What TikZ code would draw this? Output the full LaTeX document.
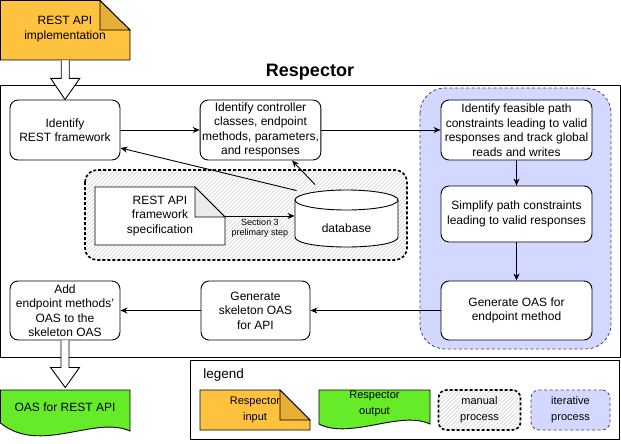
\documentclass[tikz,border=0pt]{standalone}
\usepackage{fontspec}
\setmainfont{Liberation Sans}
\usetikzlibrary{arrows.meta}
\definecolor{inorange}{RGB}{255,194,63}
\definecolor{folddark}{RGB}{232,174,56}
\definecolor{outgreen}{RGB}{102,235,40}
\definecolor{iterblue}{RGB}{210,216,255}
\definecolor{iterline}{RGB}{70,70,90}
\definecolor{foldgray}{RGB}{235,235,235}
\definecolor{hatchgray}{RGB}{205,205,205}
% hatch: #1,#2 = top-left corner, #3,#4 = bottom-right corner, #5 = corner radius
\newcommand\myhatch[5]{%
  \begin{scope}
    \clip[rounded corners=#5] (#1,#2) rectangle (#3,#4);
    \fill[white] (#1,#2) rectangle (#3,#4);
    \pgfmathsetmacro\hh{#4-#2}
    \foreach \a in {-100,-96,...,420} {
      \draw[hatchgray, line width=0.6pt] ({#1+\a},#4) -- ({#1+\a+\hh},#2);
    }
  \end{scope}}
\begin{document}
\begin{tikzpicture}[x=1pt,y=-1pt,
  line width=0.9pt,
  txt/.style={font=\fontsize{12}{14.5}\selectfont, align=center, inner sep=0pt},
  proc/.style={draw, rounded corners=8pt, fill=white, align=center, inner sep=2pt,
               font=\fontsize{12}{14.5}\selectfont},
  holder/.style={inner sep=0pt, align=center},
  arr/.style={-{Stealth[length=7pt,width=6pt]}},
  blockarr/.style={draw, fill=white, line width=0.9pt, line join=miter},
  manualline/.style={draw, line width=1.6pt, dash pattern=on 3pt off 2pt},
  iterreg/.style={draw=iterline, line width=0.8pt, dash pattern=on 3pt off 2.5pt, fill=iterblue},
  legtxt/.style={font=\fontsize{11}{16}\selectfont, align=center, inner sep=0pt}
]
\useasboundingbox (0,0) rectangle (621,444);

% ---------- main container ----------
\node[draw, minimum width=619.5pt, minimum height=272pt, inner sep=0pt] (main) at (310.25,221) {};
\node[font=\fontsize{18}{20}\bfseries\selectfont, inner sep=0pt] (title) at (310,72.5) {Respector};

% iterative region
\draw[iterreg, rounded corners=25pt] (420,88) rectangle (611,349);
% manual region
\myhatch{85}{170}{407}{260}{12pt}
\draw[manualline, rounded corners=12pt] (85,170) rectangle (407,260);

% ---------- input note ----------
\draw[fill=inorange] (0.5,0.5) -- (100,0.5) -- (130,30) -- (130,60) -- (0.5,60) -- cycle;
\draw[fill=folddark] (100,0.5) -- (100,30) -- (130,30) -- cycle;
\node[holder, minimum width=129.5pt, minimum height=59.5pt] (impl) at (65.25,30.25) {};
\node[txt] (impltxt) at (65,29) {REST API\\implementation};

% ---------- process boxes ----------
\node[proc, minimum width=110pt, minimum height=60pt] (rest) at (65,130) {Identify\\REST framework};
\node[proc, minimum width=119pt, minimum height=60pt] (ctrl) at (260.5,130)
  {Identify controller\\classes, endpoint\\methods, parameters,\\and responses};
\node[proc, minimum width=151pt, minimum height=60pt] (feas) at (516.5,130)
  {Identify feasible path\\constraints leading to valid\\responses and track global\\reads and writes};
\node[proc, minimum width=151pt, minimum height=56pt] (simp) at (516.5,214)
  {Simplify path constraints\\leading to valid responses};
\node[proc, minimum width=151pt, minimum height=59pt] (gen) at (516.5,310.5)
  {Generate OAS for\\endpoint method};
\node[proc, minimum width=109pt, minimum height=59pt] (skel) at (255.5,310.5)
  {Generate\\skeleton OAS\\for API};
\node[proc, minimum width=110pt, minimum height=59pt] (add) at (65,310.5)
  {Add\\endpoint methods'\\OAS to the\\skeleton OAS};

% ---------- spec note ----------
\draw[fill=white] (95,187) -- (195,187) -- (225,217) -- (225,245) -- (95,245) -- cycle;
\draw[fill=foldgray] (195,187) -- (195,217) -- (225,217) -- cycle;
\node[holder, minimum width=130pt, minimum height=58pt] (spec) at (160,216) {};
\node[txt] (spectxt) at (160,216) {REST API\\framework\\specification};

% ---------- database ----------
\draw[fill=white] (295,200) -- (295,237) .. controls (295,250.33) and (398,250.33) .. (398,237) -- (398,200);
\draw[fill=white] (346.5,200) ellipse [x radius=51.5pt, y radius=10pt];
\node[holder, minimum width=103pt, minimum height=57pt] (db) at (346.5,218.5) {};
\node[txt] (dbtxt) at (346.5,228) {database};

% ---------- connectors ----------
\draw[arr] (rest) -- (ctrl);
\draw[arr] (ctrl) -- (feas);
\draw[arr] (feas) -- (simp);
\draw[arr] (simp) -- (gen);
\draw[arr] (gen) -- (skel);
\draw[arr] (skel) -- (add);
\draw[arr] (spec.east) -- (spec.east -| db.west)
  node[midway, below=3pt, font=\fontsize{9}{10}\selectfont, align=center, inner sep=0pt]
  {Section 3\\prelimary step};
\draw[arr] ([xshift=2pt,yshift=-1pt]db.north west) -- ([yshift=-18pt]rest.east);
\draw[arr] ([xshift=-31.5pt,yshift=5pt]db.north) -- ([xshift=31.5pt]ctrl.south);

% ---------- output document ----------
\draw[fill=outgreen] (0.5,390) -- (130,390) -- (130,431) .. controls (95,415) and (40,455) .. (0.5,423) -- cycle;
\node[holder, minimum width=129.5pt, minimum height=34pt] (oas) at (65.25,407) {};
\node[txt] (oastxt) at (65,407) {OAS for REST API};

% ---------- hollow block arrows ----------
\draw[blockarr] ([xshift=-4pt]impl.south) -- ([xshift=-4pt,yshift=-18pt]impl.south)
  -- ([xshift=-14.5pt,yshift=-18pt]impl.south) -- (rest.north)
  -- ([xshift=14.5pt,yshift=-18pt]impl.south) -- ([xshift=4pt,yshift=-18pt]impl.south)
  -- ([xshift=4pt]impl.south);
\draw[blockarr] ([xshift=-4pt]add.south) -- ([xshift=-4pt,yshift=-27pt]add.south)
  -- ([xshift=-14.5pt,yshift=-27pt]add.south) -- ([yshift=2pt]oas.north)
  -- ([xshift=14.5pt,yshift=-27pt]add.south) -- ([xshift=4pt,yshift=-27pt]add.south)
  -- ([xshift=4pt]add.south);

% ---------- legend ----------
\node[draw, minimum width=429pt, minimum height=79pt, inner sep=0pt] (legend) at (404.5,399.5) {};
\node[font=\fontsize{13.5}{15}\selectfont, anchor=west, inner sep=0pt] (legtitle) at (203,375) {legend};

\draw[fill=inorange] (200,390) -- (280,390) -- (310,420) -- (310,430) -- (200,430) -- cycle;
\draw[fill=folddark] (280,390) -- (280,420) -- (310,420) -- cycle;
\node[legtxt] (linput) at (255,410) {Respector\\input};

\draw[fill=outgreen] (319,390) -- (430,390) -- (430,424) .. controls (400,410) and (350,440) .. (319,424) -- cycle;
\node[legtxt] (loutput) at (374.5,404) {Respector\\output};

\myhatch{438.5}{390}{520.5}{430}{8pt}
\node[manualline, rounded corners=8pt, minimum width=82pt, minimum height=40pt, legtxt] (lmanual) at (479.5,410) {manual\\process};
\node[iterreg, rounded corners=8pt, minimum width=79pt, minimum height=40pt, legtxt] (liter) at (570.5,410) {iterative\\process};

\end{tikzpicture}
\end{document}
